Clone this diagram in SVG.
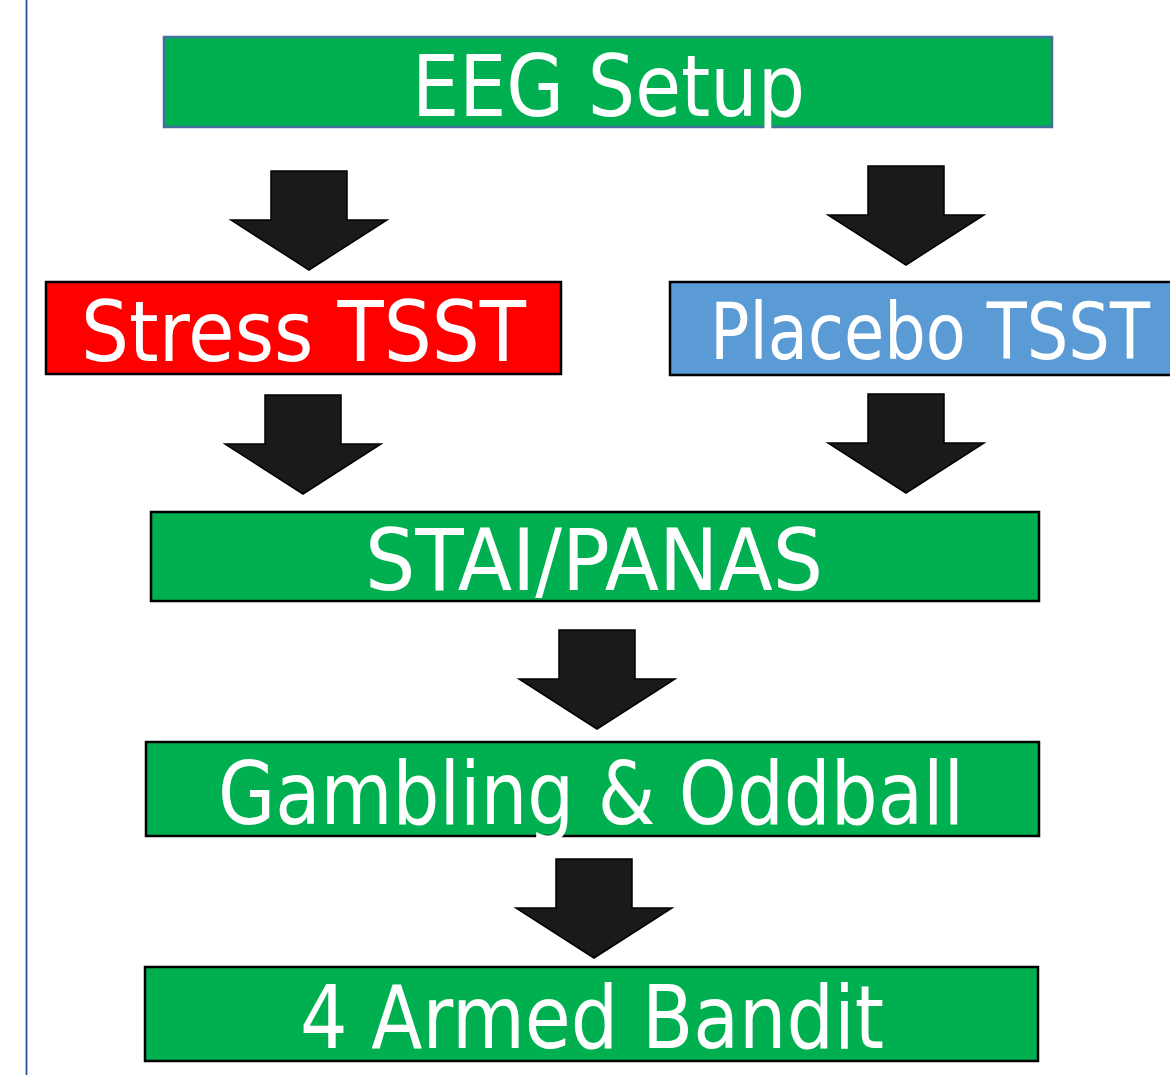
<svg xmlns="http://www.w3.org/2000/svg" xmlns:xlink="http://www.w3.org/1999/xlink" width="1170" height="1075" viewBox="0 0 1170 1075">
  <style>
    .box { stroke: #000; stroke-width: 2.5; }
    .green { fill: #00B050; }
    .red { fill: #FF0000; }
    .blue { fill: #5B9BD5; }
    .label { fill: #fff; font-family: "DejaVu Sans", "Liberation Sans", sans-serif; }
    .arrow { fill: #1a1a1a; stroke: #000; stroke-width: 1.5; stroke-linejoin: miter; }
  </style>
  <defs>
    <!-- block arrow, origin at the tip -->
    <path id="down" class="arrow" d="M-38,-99 H38 V-50 H78 L0,0 L-78,-50 H-38 Z"/>
  </defs>
  <rect width="1170" height="1075" fill="#fff"/>
  <line x1="26.5" y1="0" x2="26.5" y2="1075" stroke="#2F5597" stroke-width="1.8"/>

  <g id="connectors">
    <use xlink:href="#down" transform="translate(309,270)"/>
    <use xlink:href="#down" transform="translate(906,265)"/>
    <use xlink:href="#down" transform="translate(303,494)"/>
    <use xlink:href="#down" transform="translate(906,493)"/>
    <use xlink:href="#down" transform="translate(597,729)"/>
    <use xlink:href="#down" transform="translate(594,958)"/>
  </g>

  <g id="eeg-setup">
    <rect class="box green" x="164" y="37" width="888" height="90" style="stroke:#41719C"/>
    <text class="label" x="412" y="116" font-size="86" textLength="393" lengthAdjust="spacingAndGlyphs">EEG Setup</text>
  </g>

  <g id="stress-tsst">
    <rect class="box red" x="46" y="282" width="515" height="92"/>
    <text class="label" x="81" y="361" font-size="84" textLength="445" lengthAdjust="spacingAndGlyphs">Stress TSST</text>
  </g>

  <g id="placebo-tsst">
    <rect class="box blue" x="670" y="282" width="520" height="93"/>
    <text class="label" x="710" y="359" font-size="78" textLength="440" lengthAdjust="spacingAndGlyphs">Placebo TSST</text>
  </g>

  <g id="stai-panas">
    <rect class="box green" x="151" y="512" width="888" height="89"/>
    <text class="label" x="365" y="590" font-size="85" textLength="458" lengthAdjust="spacingAndGlyphs">STAI/PANAS</text>
  </g>

  <g id="gambling-oddball">
    <rect class="box green" x="146" y="742" width="893" height="94"/>
    <text class="label" x="218" y="824" font-size="88" textLength="746" lengthAdjust="spacingAndGlyphs">Gambling &amp; Oddball</text>
  </g>

  <g id="four-armed-bandit">
    <rect class="box green" x="145" y="967" width="893" height="94"/>
    <text class="label" x="300" y="1048" font-size="88" textLength="584" lengthAdjust="spacingAndGlyphs">4 Armed Bandit</text>
  </g>
</svg>
